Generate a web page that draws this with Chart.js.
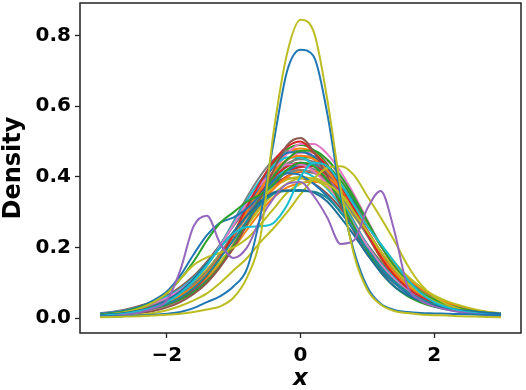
<!DOCTYPE html>
<html>
<head>
<meta charset="utf-8">
<script src="https://cdn.jsdelivr.net/npm/chart.js@4/dist/chart.umd.min.js"></script>
<style>
  html, body { margin: 0; padding: 0; background: #fff; }
  canvas { display: block; }
</style>
</head>
<body>
<canvas id="densityChart" width="526" height="390"></canvas>
<script>
// x grid shared by every curve
const xGrid = [-3, -2.8, -2.6, -2.4, -2.2, -2, -1.8, -1.6, -1.4, -1.2, -1, -0.8, -0.6, -0.4, -0.2, 0,
    0.2, 0.4, 0.6, 0.8, 1, 1.2, 1.4, 1.6, 1.8, 2, 2.2, 2.4, 2.6, 2.8, 3];

const xTicks = [-2, 0, 2];
const yTicks = [0, 0.2, 0.4, 0.6, 0.8];

// the odd ones that stick out of the bundle
const tallOlive = [0.002,0.003,0.004,0.005,0.007,0.009,0.012,0.017,0.024,0.033,0.058,0.115,0.23,0.53,0.75,0.845,0.81,0.62,0.37,0.18,0.08,0.038,0.02,0.014,0.01,0.008,0.007,0.005,0.004,0.003,0.002];
const tallBlue = [0.004,0.005,0.006,0.007,0.009,0.012,0.017,0.028,0.045,0.062,0.09,0.14,0.29,0.5,0.7,0.76,0.74,0.58,0.35,0.19,0.088,0.04,0.023,0.017,0.014,0.013,0.012,0.011,0.01,0.009,0.008];
const bimodalPurple = [0.004,0.006,0.01,0.016,0.028,0.05,0.135,0.26,0.29,0.21,0.17,0.2,0.28,0.34,0.38,0.385,0.345,0.285,0.21,0.22,0.31,0.36,0.25,0.09,0.05,0.033,0.023,0.016,0.011,0.008,0.005];
const cyanShoulder = [0.006,0.009,0.013,0.02,0.03,0.045,0.07,0.105,0.15,0.2,0.24,0.258,0.26,0.27,0.32,0.4,0.44,0.43,0.38,0.32,0.26,0.21,0.16,0.11,0.07,0.045,0.03,0.02,0.014,0.01,0.007];
const flatBlue = [0.008,0.011,0.015,0.022,0.033,0.05,0.075,0.11,0.155,0.2,0.245,0.29,0.33,0.356,0.362,0.363,0.355,0.33,0.285,0.235,0.18,0.13,0.09,0.065,0.048,0.035,0.027,0.021,0.017,0.014,0.012];
const flatTeal = [0.006,0.009,0.013,0.019,0.028,0.04,0.058,0.085,0.122,0.17,0.222,0.275,0.322,0.352,0.36,0.36,0.358,0.34,0.3,0.25,0.195,0.145,0.105,0.075,0.054,0.039,0.029,0.022,0.017,0.013,0.01];
const broadOlive = [0.003,0.004,0.006,0.009,0.014,0.022,0.034,0.05,0.07,0.1,0.135,0.17,0.215,0.255,0.3,0.35,0.395,0.425,0.43,0.405,0.345,0.285,0.22,0.15,0.095,0.06,0.038,0.024,0.015,0.009,0.005];
const shoulderOlive = [0.008,0.012,0.018,0.028,0.045,0.07,0.11,0.15,0.172,0.185,0.2,0.225,0.265,0.31,0.355,0.38,0.39,0.38,0.35,0.3,0.245,0.19,0.14,0.1,0.07,0.047,0.031,0.02,0.013,0.009,0.006];
const shoulderGreen = [0.01,0.014,0.02,0.03,0.045,0.07,0.11,0.16,0.22,0.27,0.3,0.33,0.35,0.38,0.42,0.44,0.43,0.39,0.33,0.26,0.19,0.13,0.09,0.062,0.044,0.032,0.024,0.018,0.014,0.011,0.009];
const earlyBlue = [0.012,0.016,0.022,0.032,0.05,0.075,0.12,0.18,0.235,0.27,0.285,0.31,0.35,0.39,0.41,0.405,0.38,0.345,0.3,0.25,0.19,0.14,0.1,0.07,0.05,0.037,0.028,0.022,0.018,0.015,0.013];
const peakBrown = [0.005,0.007,0.01,0.014,0.02,0.03,0.045,0.068,0.1,0.145,0.2,0.265,0.34,0.42,0.49,0.51,0.47,0.4,0.32,0.245,0.18,0.135,0.1,0.073,0.052,0.037,0.026,0.018,0.013,0.009,0.006];

// the main bundle
const bundle01 = [0.008,0.011,0.015,0.021,0.029,0.04,0.057,0.082,0.12,0.172,0.24,0.315,0.385,0.445,0.485,0.5,0.468,0.43,0.375,0.31,0.238,0.173,0.122,0.085,0.06,0.043,0.031,0.022,0.016,0.012,0.008];
const bundle02 = [0.007,0.01,0.014,0.019,0.027,0.037,0.052,0.073,0.104,0.148,0.206,0.274,0.343,0.403,0.449,0.474,0.474,0.449,0.403,0.343,0.274,0.206,0.148,0.104,0.073,0.052,0.037,0.027,0.019,0.014,0.01];
const bundle03 = [0.009,0.012,0.017,0.024,0.033,0.045,0.063,0.089,0.126,0.175,0.236,0.303,0.365,0.415,0.449,0.46,0.45,0.418,0.37,0.31,0.243,0.18,0.13,0.092,0.066,0.047,0.034,0.025,0.018,0.013,0.01];
const bundle04 = [0.011,0.016,0.022,0.03,0.042,0.057,0.079,0.11,0.152,0.204,0.265,0.326,0.378,0.415,0.435,0.435,0.415,0.378,0.326,0.265,0.204,0.152,0.11,0.079,0.057,0.042,0.03,0.022,0.016,0.011,0.008];
const bundle05 = [0.01,0.014,0.019,0.027,0.037,0.051,0.07,0.096,0.132,0.178,0.234,0.293,0.345,0.386,0.411,0.42,0.411,0.386,0.345,0.293,0.234,0.178,0.132,0.096,0.07,0.051,0.037,0.027,0.019,0.014,0.01];
const bundle06 = [0.01,0.013,0.018,0.025,0.035,0.047,0.064,0.088,0.119,0.16,0.209,0.262,0.311,0.352,0.381,0.396,0.396,0.381,0.352,0.311,0.262,0.209,0.16,0.119,0.088,0.064,0.047,0.035,0.025,0.018,0.013];
const bundle07 = [0.011,0.015,0.021,0.029,0.039,0.054,0.076,0.108,0.151,0.206,0.27,0.334,0.39,0.432,0.455,0.455,0.432,0.39,0.334,0.27,0.206,0.151,0.108,0.076,0.054,0.039,0.029,0.021,0.015,0.011,0.008];
const bundle08 = [0.008,0.012,0.016,0.022,0.031,0.043,0.06,0.085,0.122,0.173,0.238,0.31,0.375,0.43,0.468,0.47,0.458,0.425,0.375,0.312,0.244,0.182,0.132,0.095,0.068,0.049,0.036,0.026,0.019,0.014,0.01];
const bundle09 = [0.009,0.012,0.017,0.023,0.032,0.044,0.061,0.083,0.114,0.155,0.206,0.264,0.319,0.366,0.399,0.416,0.416,0.399,0.366,0.319,0.264,0.206,0.155,0.114,0.083,0.061,0.044,0.032,0.023,0.017,0.012];
const bundle10 = [0.008,0.012,0.017,0.024,0.034,0.047,0.065,0.091,0.127,0.174,0.232,0.296,0.354,0.399,0.429,0.44,0.432,0.403,0.36,0.304,0.241,0.183,0.135,0.098,0.071,0.052,0.038,0.028,0.02,0.015,0.011];
const bundle11 = [0.007,0.01,0.013,0.018,0.025,0.035,0.049,0.07,0.101,0.146,0.206,0.278,0.35,0.415,0.465,0.493,0.493,0.465,0.415,0.35,0.278,0.206,0.146,0.101,0.07,0.049,0.035,0.025,0.018,0.013,0.01];
const bundle12 = [0.01,0.013,0.018,0.025,0.035,0.048,0.066,0.092,0.13,0.18,0.24,0.305,0.362,0.408,0.438,0.45,0.442,0.412,0.364,0.305,0.242,0.182,0.133,0.095,0.068,0.049,0.036,0.026,0.019,0.014,0.01];
const bundle13 = [0.011,0.015,0.021,0.029,0.04,0.054,0.074,0.101,0.137,0.182,0.235,0.288,0.334,0.37,0.392,0.4,0.392,0.37,0.334,0.288,0.235,0.182,0.137,0.101,0.074,0.054,0.04,0.029,0.021,0.015,0.011];
const bundle14 = [0.012,0.017,0.023,0.032,0.044,0.061,0.083,0.114,0.155,0.206,0.264,0.319,0.366,0.399,0.416,0.416,0.399,0.366,0.319,0.264,0.206,0.155,0.114,0.083,0.061,0.044,0.032,0.023,0.017,0.012,0.009];
const bundle15 = [0.008,0.011,0.016,0.022,0.03,0.042,0.057,0.079,0.11,0.152,0.204,0.265,0.326,0.378,0.415,0.435,0.435,0.415,0.378,0.326,0.265,0.204,0.152,0.11,0.079,0.057,0.042,0.03,0.022,0.016,0.011];
const bundle16 = [0.008,0.012,0.016,0.022,0.031,0.043,0.06,0.085,0.122,0.173,0.238,0.31,0.375,0.43,0.468,0.48,0.468,0.43,0.375,0.31,0.238,0.173,0.122,0.085,0.06,0.043,0.031,0.022,0.016,0.012,0.008];
const bundle17 = [0.008,0.011,0.015,0.021,0.029,0.039,0.054,0.076,0.108,0.151,0.206,0.27,0.334,0.39,0.432,0.455,0.455,0.432,0.39,0.334,0.27,0.206,0.151,0.108,0.076,0.054,0.039,0.029,0.021,0.015,0.011];
const bundle18 = [0.01,0.014,0.019,0.027,0.037,0.051,0.07,0.096,0.132,0.178,0.232,0.29,0.342,0.384,0.413,0.428,0.43,0.408,0.365,0.31,0.248,0.188,0.138,0.099,0.071,0.051,0.037,0.027,0.02,0.014,0.01];
const bundle19 = [0.009,0.013,0.018,0.025,0.035,0.048,0.066,0.092,0.128,0.175,0.233,0.297,0.355,0.4,0.43,0.44,0.43,0.4,0.355,0.297,0.233,0.175,0.128,0.092,0.066,0.048,0.035,0.025,0.018,0.013,0.009];
const bundle20 = [0.013,0.018,0.025,0.035,0.047,0.064,0.088,0.119,0.16,0.209,0.262,0.311,0.352,0.381,0.396,0.396,0.381,0.352,0.311,0.262,0.209,0.16,0.119,0.088,0.064,0.047,0.035,0.025,0.018,0.013,0.01];
const bundle21 = [0.008,0.011,0.016,0.023,0.032,0.044,0.062,0.088,0.125,0.174,0.235,0.302,0.364,0.414,0.448,0.46,0.452,0.42,0.372,0.312,0.248,0.188,0.138,0.1,0.072,0.052,0.038,0.028,0.02,0.015,0.011];
const bundle22 = [0.01,0.014,0.019,0.027,0.037,0.052,0.073,0.104,0.148,0.206,0.274,0.343,0.403,0.449,0.474,0.474,0.449,0.403,0.343,0.274,0.206,0.148,0.104,0.073,0.052,0.037,0.027,0.019,0.014,0.01,0.007];
const bundle23 = [0.006,0.009,0.013,0.019,0.028,0.04,0.057,0.08,0.11,0.15,0.198,0.25,0.3,0.342,0.37,0.382,0.386,0.378,0.352,0.312,0.262,0.208,0.158,0.116,0.083,0.058,0.04,0.028,0.019,0.013,0.009];
const bundle24 = [0.007,0.01,0.014,0.02,0.029,0.041,0.058,0.082,0.114,0.156,0.208,0.266,0.322,0.37,0.402,0.414,0.412,0.392,0.354,0.302,0.244,0.188,0.14,0.1,0.071,0.05,0.035,0.025,0.018,0.013,0.009];
const bundle25 = [0.009,0.012,0.016,0.022,0.03,0.041,0.058,0.083,0.121,0.173,0.24,0.313,0.382,0.44,0.478,0.49,0.476,0.435,0.376,0.308,0.236,0.17,0.119,0.082,0.057,0.04,0.029,0.021,0.015,0.011,0.008];
const bundle26 = [0.007,0.01,0.014,0.019,0.027,0.038,0.054,0.077,0.11,0.155,0.213,0.28,0.346,0.404,0.447,0.468,0.468,0.445,0.4,0.34,0.273,0.207,0.15,0.106,0.075,0.053,0.038,0.027,0.02,0.014,0.01];
const bundle27 = [0.01,0.014,0.02,0.028,0.039,0.054,0.074,0.101,0.137,0.184,0.24,0.298,0.35,0.392,0.42,0.43,0.422,0.394,0.35,0.296,0.238,0.182,0.135,0.098,0.071,0.052,0.038,0.028,0.02,0.015,0.011];

// matplotlib tab10 colours
const C = {
    blue: '#1f77b4', orange: '#ff7f0e', green: '#2ca02c', red: '#d62728', purple: '#9467bd',
    brown: '#8c564b', pink: '#e377c2', gray: '#7f7f7f', olive: '#bcbd22', cyan: '#17becf'
};

// first entry is drawn on top
const curves = [
    [tallOlive, C.olive], [tallBlue, C.blue], [bimodalPurple, C.purple], [cyanShoulder, C.cyan],
    [flatBlue, '#1f6f99'], [flatTeal, '#1a8c96'], [broadOlive, C.olive], [shoulderOlive, C.olive],
    [shoulderGreen, C.green], [earlyBlue, C.blue], [peakBrown, C.brown],
    [bundle01, C.red], [bundle02, C.green], [bundle03, C.orange], [bundle04, C.pink], [bundle05, C.gray],
    [bundle06, C.olive], [bundle07, C.cyan], [bundle08, C.blue], [bundle09, C.orange], [bundle10, C.red],
    [bundle11, C.pink], [bundle12, C.gray], [bundle13, C.olive], [bundle14, C.cyan], [bundle15, C.blue],
    [bundle16, C.orange], [bundle17, C.green], [bundle18, C.red], [bundle19, C.purple], [bundle20, C.brown],
    [bundle21, C.pink], [bundle22, C.gray], [bundle23, C.orange], [bundle24, C.red], [bundle25, C.green],
    [bundle26, C.pink], [bundle27, C.gray]
];

function buildDatasets() {
    return curves.map(function(entry, idx) {
        const values = entry[0];
        return {
            label: 'curve ' + (idx + 1),
            data: xGrid.map((x, i) => ({ x: x, y: values[i] })),
            borderColor: entry[1],
            borderWidth: 2,
            pointRadius: 0,
            fill: false,
            cubicInterpolationMode: 'monotone'
        };
    });
}

function formatX(value) {
    return value < 0 ? '\u2212' + Math.abs(value) : String(value);
}

// no extra room for the end tick labels, the frame hugs the plot
function clearPadding(scale) {
    scale.paddingTop = 0;
    scale.paddingBottom = 0;
    scale.paddingLeft = 0;
    scale.paddingRight = 0;
}

const framePlugin = {
    id: 'frame',
    afterDraw(chart) {
        const a = chart.chartArea;
        const ctx = chart.ctx;
        ctx.save();
        ctx.strokeStyle = '#222';
        ctx.lineWidth = 1.5;
        ctx.strokeRect(a.left, a.top, a.right - a.left, a.bottom - a.top);
        ctx.restore();
    }
};

const tickFont = { family: 'DejaVu Sans', weight: 'bold', size: 20 };

const ctx = document.getElementById('densityChart').getContext('2d');
new Chart(ctx, {
    type: 'line',
    data: { datasets: buildDatasets() },
    options: {
        responsive: false,
        animation: false,
        devicePixelRatio: 1,
        layout: { padding: { top: 3, right: 5, left: 0, bottom: 0 } },
        plugins: {
            legend: { display: false },
            tooltip: { enabled: false }
        },
        scales: {
            x: {
                type: 'linear',
                min: -3.3,
                max: 3.3,
                afterBuildTicks: function(scale) {
                    scale.ticks = xTicks.map(v => ({ value: v }));
                },
                afterFit: function(scale) {
                    scale.height = 57;
                    clearPadding(scale);
                },
                grid: { drawOnChartArea: false, drawTicks: true, tickLength: 5, tickColor: '#222', tickWidth: 1.3 },
                border: { display: false },
                ticks: {
                    color: '#000',
                    font: tickFont,
                    padding: 6,
                    maxRotation: 0,
                    callback: formatX
                },
                title: {
                    display: true,
                    text: 'x',
                    color: '#000',
                    font: { family: 'DejaVu Sans', weight: 'bold', style: 'italic', size: 23, lineHeight: 1 },
                    padding: { top: 0, bottom: -1 }
                }
            },
            y: {
                type: 'linear',
                min: -0.0425,
                max: 0.8925,
                afterBuildTicks: function(scale) {
                    scale.ticks = yTicks.map(v => ({ value: v }));
                },
                afterFit: function(scale) {
                    scale.width = 80;
                    clearPadding(scale);
                },
                grid: { drawOnChartArea: false, drawTicks: true, tickLength: 5, tickColor: '#222', tickWidth: 1.3 },
                border: { display: false },
                ticks: {
                    color: '#000',
                    font: tickFont,
                    padding: 4,
                    callback: function(value) { return value.toFixed(1); }
                },
                title: {
                    display: true,
                    text: 'Density',
                    color: '#000',
                    font: { family: 'DejaVu Sans', weight: 'bold', size: 24, lineHeight: 1 },
                    padding: { top: 2, bottom: 0 }
                }
            }
        }
    },
    plugins: [framePlugin]
});
</script>
</body>
</html>
